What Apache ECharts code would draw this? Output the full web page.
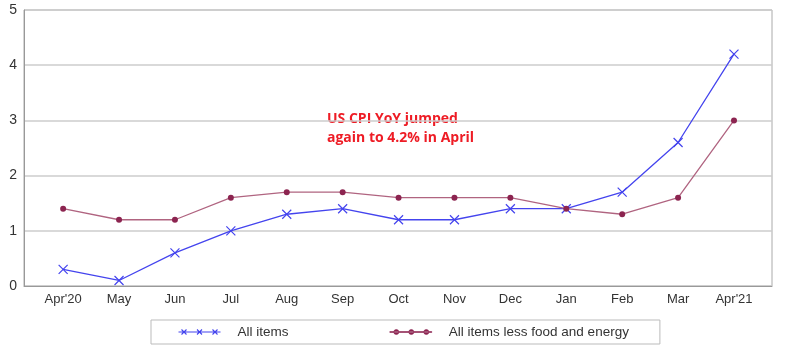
<!DOCTYPE html>
<html><head><meta charset="utf-8">
<script src="https://cdn.jsdelivr.net/npm/echarts@6/dist/echarts.min.js"></script>
<style>html,body{margin:0;padding:0;background:#fff}#c{width:800px;height:362px}</style>
</head><body><div id="c"></div>
<script>
var categories = ["Apr'20","May","Jun","Jul","Aug","Sep","Oct","Nov","Dec","Jan","Feb","Mar","Apr'21"];
var allItems = [0.3, 0.1, 0.6, 1.0, 1.3, 1.4, 1.2, 1.2, 1.4, 1.4, 1.7, 2.6, 4.2];
var coreItems = [1.4, 1.2, 1.2, 1.6, 1.7, 1.7, 1.6, 1.6, 1.6, 1.4, 1.3, 1.6, 3.0];
var yTicks = [0, 1, 2, 3, 4, 5];
var annotation = "US CPI YoY jumped\nagain to 4.2% in April";

var idx = categories.map(function(_, i){ return i; });
function pairs(arr){ return arr.map(function(v, i){ return [i, v]; }); }

var chart = echarts.init(document.getElementById('c'));
chart.setOption({
  animation: false,
  textStyle: { fontFamily: 'Liberation Sans, Arial, sans-serif' },
  grid: { left: 24, right: 28, top: 10, bottom: 76, show: true, borderColor: '#aaa', borderWidth: 1 },
  xAxis: {
    type: 'value', min: -0.7, max: 12.68,
    axisLine: { show: true, onZero: false, lineStyle: { color: '#999' } },
    axisTick: { show: false },
    splitLine: { show: false },
    axisLabel: {
      customValues: idx, color: '#333', fontSize: 13, margin: 7,
      formatter: function(v){ return categories[Math.round(v)]; }
    }
  },
  yAxis: {
    type: 'value', min: 0, max: 5, interval: 1,
    axisLine: { show: true, onZero: false, lineStyle: { color: '#999' } },
    axisTick: { show: false },
    splitLine: { lineStyle: { color: '#ccc', width: 1.5 } },
    axisLabel: { color: '#333', fontSize: 14, margin: 7, customValues: yTicks }
  },
  legend: {
    left: 151, top: 320,
    itemGap: 101, itemWidth: 42, itemHeight: 10,
    padding: [5, 31, 5, 25],
    borderColor: '#bbb', borderWidth: 1,
    textStyle: { color: '#333', fontSize: 13.5, padding: [0, 0, 0, 12] },
    data: [
      { name: 'All items', icon: 'path://M0,5L42,5M3,2.5L8,7.5M3,7.5L8,2.5M18.5,2.5L23.5,7.5M18.5,7.5L23.5,2.5M34,2.5L39,7.5M34,7.5L39,2.5',
        itemStyle: { color: 'none', borderColor: '#4444ee', borderWidth: 1.1 } },
      { name: 'All items less food and energy',
        icon: 'path://M0,4.6L42,4.6L42,5.4L0,5.4Z M4,5a2.5,2.5 0 1,0 5,0a2.5,2.5 0 1,0 -5,0Z M19,5a2.5,2.5 0 1,0 5,0a2.5,2.5 0 1,0 -5,0Z M34,5a2.5,2.5 0 1,0 5,0a2.5,2.5 0 1,0 -5,0Z',
        itemStyle: { color: '#8c2450', borderColor: '#8c2450', borderWidth: 0.6 },
        lineStyle: { color: '#8c2450', width: 0.6 } }
    ]
  },
  series: [
    {
      name: 'All items', type: 'line', data: pairs(allItems),
      symbol: 'path://M0,0L10,10M10,0L0,10', symbolSize: 9,
      lineStyle: { color: '#4444ee', width: 1.3 },
      itemStyle: { color: 'none', borderColor: '#4444ee', borderWidth: 1.2 }
    },
    {
      name: 'All items less food and energy', type: 'line', data: pairs(coreItems),
      symbol: 'circle', symbolSize: 6,
      lineStyle: { color: '#b06480', width: 1.3 },
      itemStyle: { color: '#8c2450', borderWidth: 0 }
    }
  ],
  graphic: [{
    type: 'text', left: 327, top: 110,
    style: { text: annotation, fill: '#ee1c25', font: 'bold 14px "Open Sans", "Liberation Sans", sans-serif', lineHeight: 19 }
  }]
});
</script></body></html>
